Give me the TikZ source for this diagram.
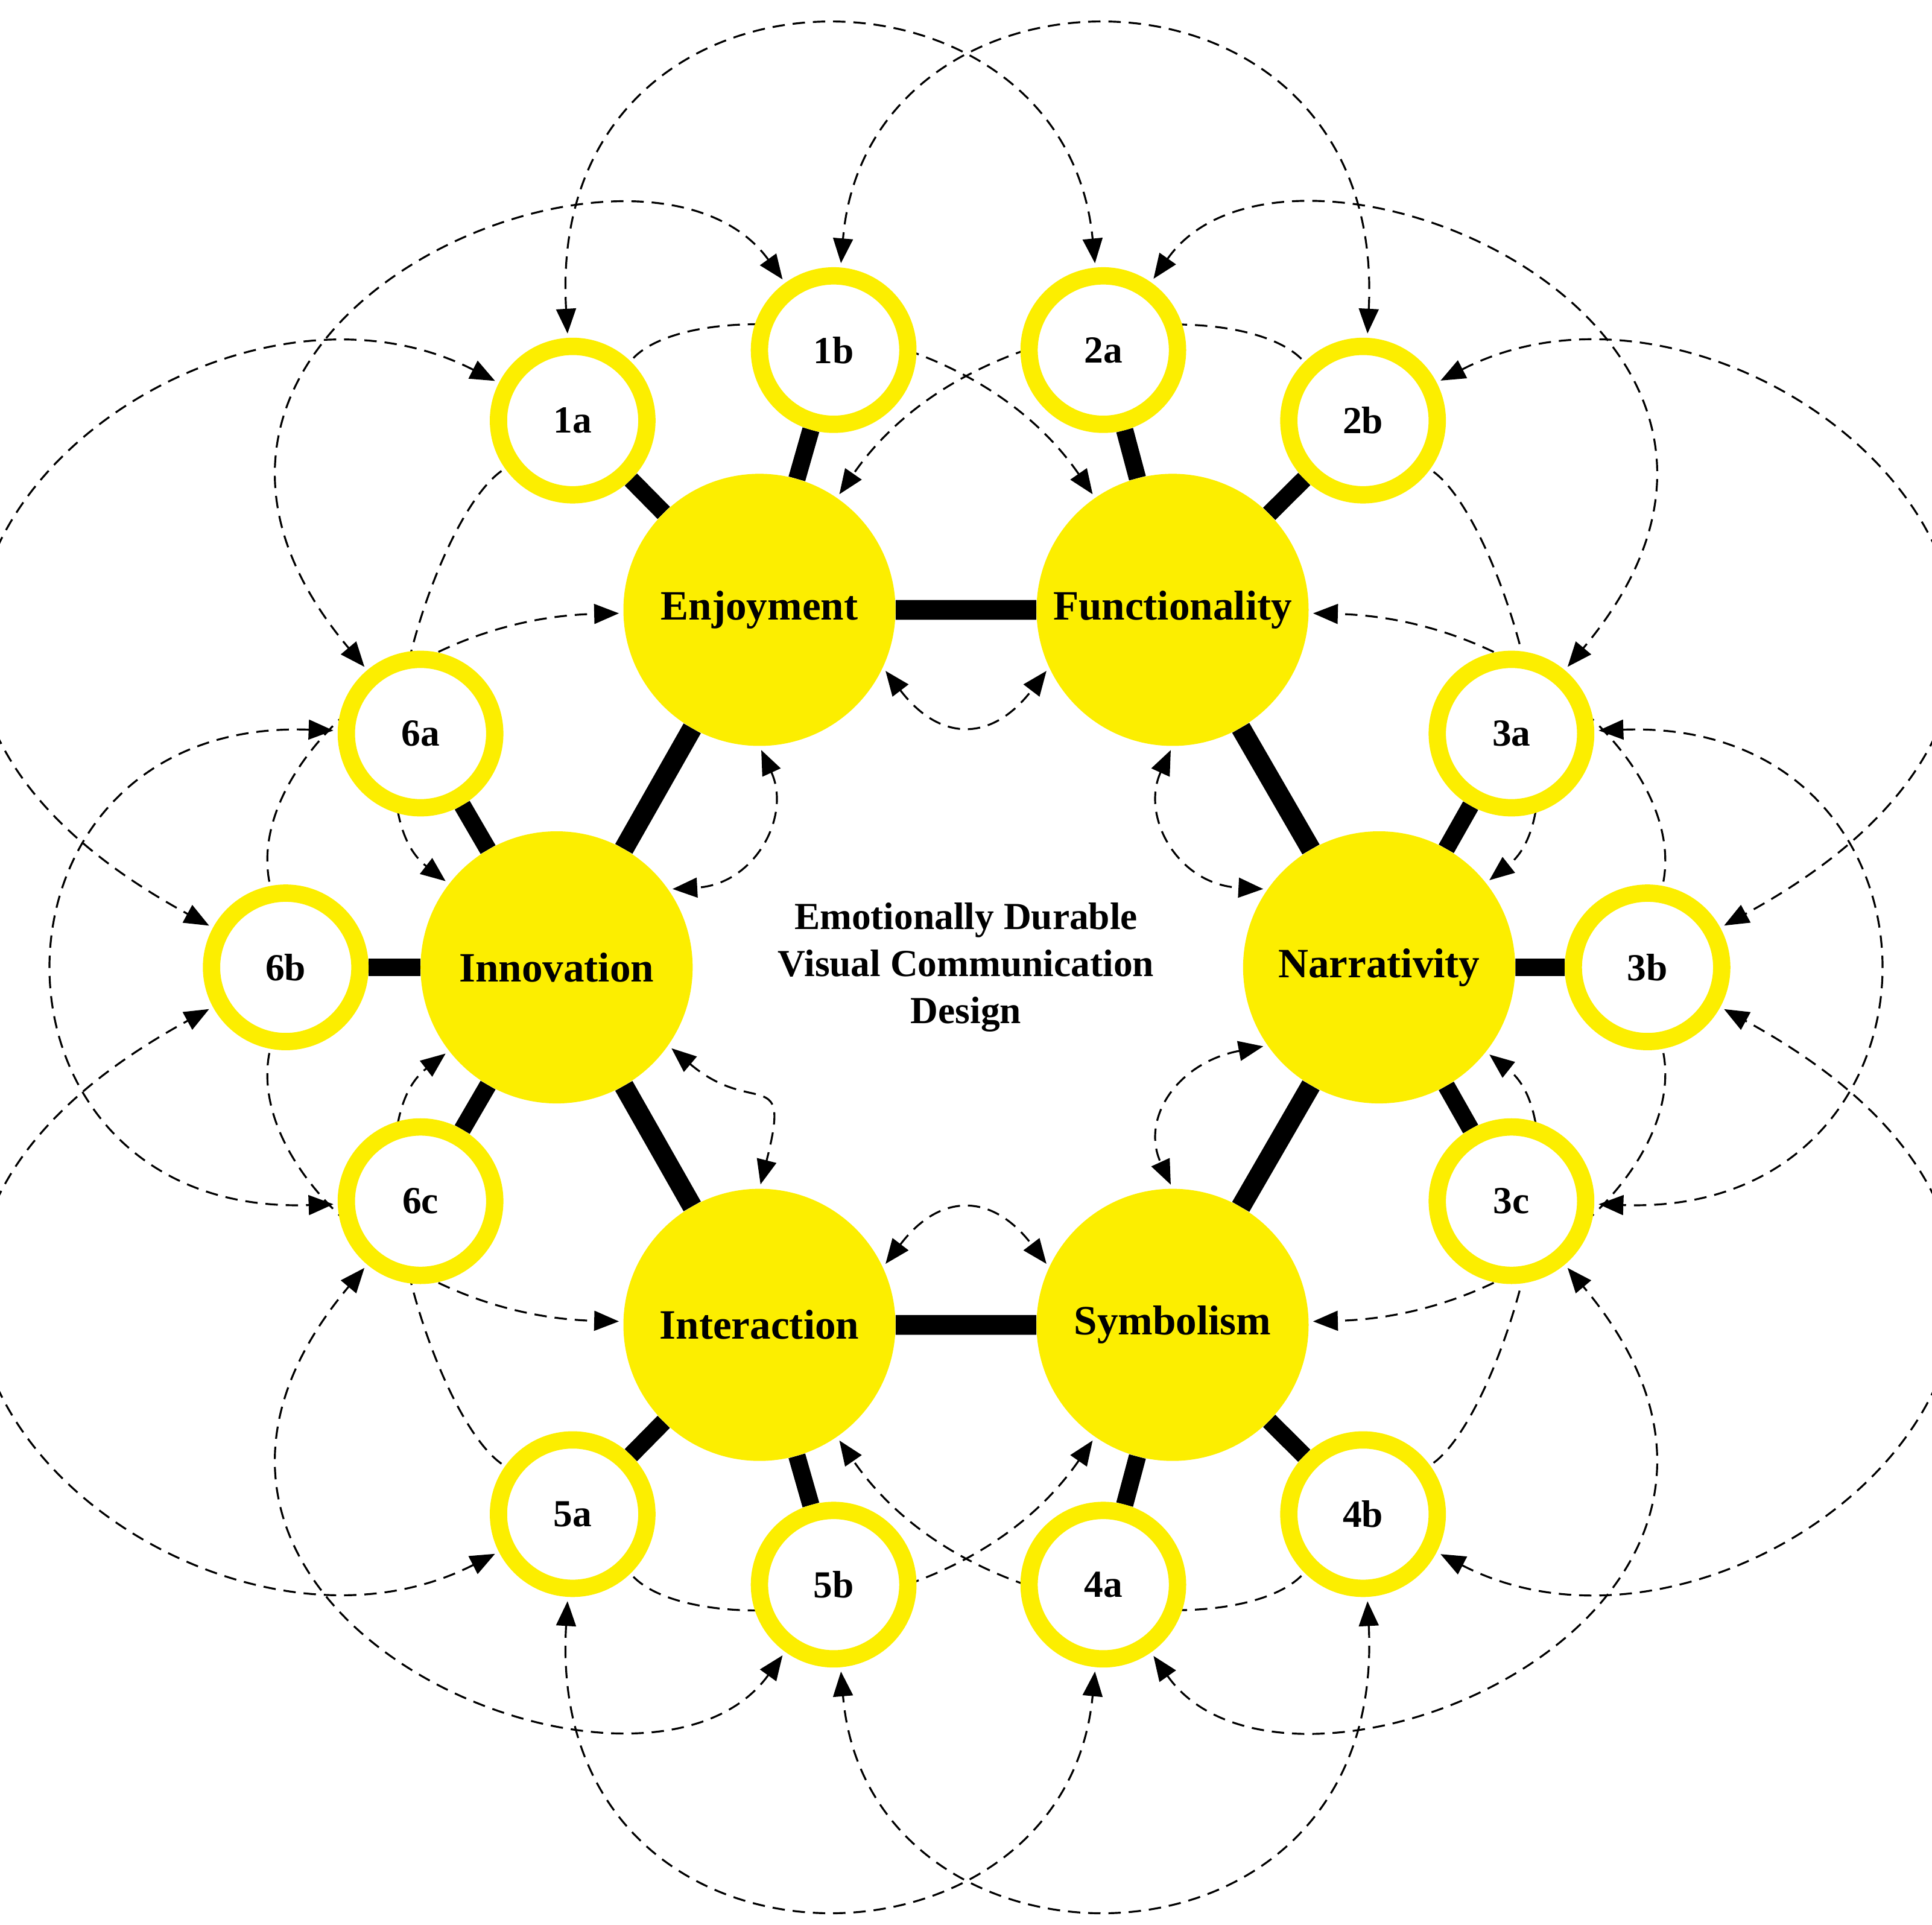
\documentclass[tikz,border=0pt]{standalone}
\usepackage{fontspec}
\setmainfont{Liberation Serif}
\usetikzlibrary{arrows.meta,backgrounds}
\definecolor{ylw}{HTML}{FCEE00}
\begin{document}
\begin{tikzpicture}[x=0.05cm,y=-0.05cm,
  hub/.style={circle,fill=ylw,minimum size=11cm,inner sep=0pt,font=\fontsize{48}{56}\selectfont\bfseries},
  ring/.style={circle,draw=ylw,fill=white,line width=0.7cm,minimum size=6cm,inner sep=0pt,font=\fontsize{44}{52}\selectfont\bfseries},
  edge/.style={line width=0.8cm},
  spoke/.style={line width=0.7cm},
  dsh/.style={line width=2.2pt,dash pattern=on 0.5cm off 0.32cm,shorten >=5pt,shorten <=5pt},
  two/.style={dsh,{Triangle[length=1cm,width=0.8cm]}-{Triangle[length=1cm,width=0.8cm]}},
  one/.style={dsh,-{Triangle[length=1cm,width=0.8cm]}},
  ttl/.style={font=\fontsize{44}{54}\selectfont\bfseries,align=center}]
\useasboundingbox (0,0) rectangle (1562,1556);
\node[hub] (E) at (614,493) {Enjoyment};
\node[hub] (F) at (948,493) {Functionality};
\node[hub] (N) at (1115,782) {Narrativity};
\node[hub] (S) at (948,1071) {Symbolism};
\node[hub] (I) at (614,1071) {Interaction};
\node[hub] (In) at (450,782) {Innovation};
\node[ring] (1a) at (463,340) {1a};
\node[ring] (1b) at (674,283) {1b};
\node[ring] (2a) at (892,283) {2a};
\node[ring] (2b) at (1102,340) {2b};
\node[ring] (3a) at (1222,593) {3a};
\node[ring] (3b) at (1332,782) {3b};
\node[ring] (3c) at (1222,971) {3c};
\node[ring] (4b) at (1102,1224) {4b};
\node[ring] (4a) at (892,1281) {4a};
\node[ring] (5b) at (674,1281) {5b};
\node[ring] (5a) at (463,1224) {5a};
\node[ring] (6c) at (340,971) {6c};
\node[ring] (6b) at (231,782) {6b};
\node[ring] (6a) at (340,593) {6a};
\node[ttl] (T) at (781,782) {Emotionally Durable\\Visual Communication\\Design};
\begin{pgfonlayer}{background}
\draw[edge] (E)--(F) (F)--(N) (N)--(S) (S)--(I) (I)--(In) (In)--(E);
\draw[spoke] (E)--(1a) (E)--(1b) (F)--(2a) (F)--(2b) (N)--(3a) (N)--(3b) (N)--(3c)
  (S)--(4a) (S)--(4b) (I)--(5a) (I)--(5b) (In)--(6a) (In)--(6b) (In)--(6c);
% outer arcs
\draw[two] (1a) .. controls (440,-50) and (860,-50) .. (2a);
\draw[two] (2b) .. controls (1122,-50) and (702,-50) .. (1b);
\draw[two] (1b) .. controls (520,70) and (60,260) .. (6a);
\draw[two] (1a) .. controls (150,180) and (-250,520) .. (6b);
\draw[two] (6a) .. controls (-30,580) and (-30,984) .. (6c);
\draw[two] (5a) .. controls (150,1384) and (-250,1044) .. (6b);
\draw[two] (5b) .. controls (520,1494) and (60,1304) .. (6c);
\draw[two] (5a) .. controls (440,1614) and (860,1614) .. (4a);
\draw[two] (4b) .. controls (1122,1614) and (702,1614) .. (5b);
\draw[two] (2a) .. controls (1042,70) and (1502,260) .. (3a);
\draw[two] (2b) .. controls (1412,180) and (1812,520) .. (3b);
\draw[two] (3a) .. controls (1592,580) and (1592,984) .. (3c);
\draw[two] (4a) .. controls (1042,1494) and (1502,1304) .. (3c);
\draw[two] (4b) .. controls (1412,1384) and (1812,1044) .. (3b);
% inner arcs
\draw[one] (1a) .. controls (560,240) and (780,250) .. (F);
\draw[one] (2b) .. controls (1002,240) and (782,250) .. (E);
\draw[one] (1a) .. controls (350,420) and (280,650) .. (In);
\draw[one] (6b) .. controls (200,620) and (330,500) .. (E);
\draw[one] (5a) .. controls (350,1144) and (280,914) .. (In);
\draw[one] (6b) .. controls (200,944) and (330,1064) .. (I);
\draw[one] (2b) .. controls (1212,420) and (1282,650) .. (N);
\draw[one] (3b) .. controls (1362,620) and (1232,500) .. (F);
\draw[one] (4b) .. controls (1212,1144) and (1282,914) .. (N);
\draw[one] (3b) .. controls (1362,944) and (1232,1064) .. (S);
\draw[one] (5a) .. controls (560,1324) and (780,1314) .. (S);
\draw[one] (4b) .. controls (1002,1324) and (782,1314) .. (I);
% loops
\draw[two] (E.-25) .. controls (760,600) and (802,600) .. (F.205);
\draw[two] (I.25) .. controls (760,964) and (802,964) .. (S.155);
\draw[two] (E.-90) .. controls (640,660) and (610,715) .. (In.35);
\draw[two] (F.-90) .. controls (922,660) and (952,715) .. (N.145);
\draw[two] (In.-35) .. controls (610,904) and (640,859) .. (I.90);
\draw[two] (N.-145) .. controls (952,859) and (922,904) .. (S.90);
\end{pgfonlayer}
\end{tikzpicture}
\end{document}
